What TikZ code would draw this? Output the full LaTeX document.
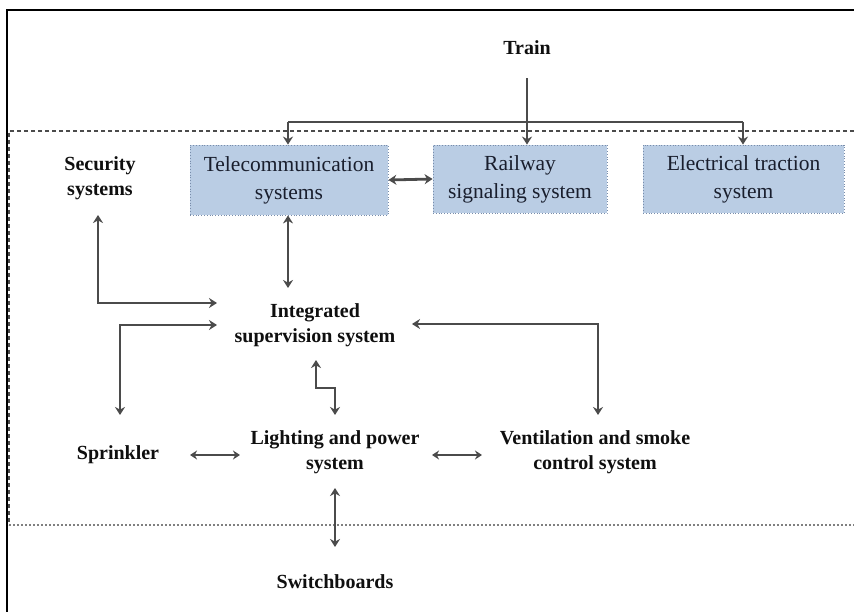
\documentclass[tikz,border=0pt]{standalone}
\usepackage{fontspec}
\setmainfont{Liberation Serif}
\usetikzlibrary{arrows.meta,calc}
\definecolor{arrgray}{RGB}{75,75,75}
\definecolor{boxblue}{RGB}{186,205,228}
\definecolor{boxedge}{RGB}{120,140,170}
\definecolor{boxtext}{RGB}{25,30,45}
\definecolor{lblblack}{RGB}{15,15,15}
\begin{document}
\begin{tikzpicture}[x=1pt,y=-1pt,
  ln/.style={draw=arrgray, line width=2.8pt},
  arr/.style={ln, -{Stealth[length=8pt,width=10pt]}},
  darr/.style={ln, {Stealth[length=8pt,width=10pt]}-{Stealth[length=8pt,width=10pt]}},
  tarr/.style={draw=arrgray, line width=2.2pt, {Stealth[length=7pt,width=9pt]}-{Stealth[length=7pt,width=9pt]}},
  sysbox/.style={draw=boxedge, dotted, line width=0.8pt, fill=boxblue, align=center, inner sep=0pt,
     text=boxtext, font=\fontsize{21.5}{28}\selectfont},
  lbl/.style={align=center, inner sep=0pt, text=lblblack, font=\bfseries\fontsize{20}{25}\selectfont}
]
\useasboundingbox (0,0) rectangle (854,612);
\fill[white] (0,0) rectangle (854,612);
% outer frame
\draw[black, line width=2pt] (7,612) -- (7,10) -- (854,10);
% dashed boundary
\draw[arrgray, line width=1.5pt, dash pattern=on 4pt off 3pt] (854,131) -- (9,131) -- (9,525);
\draw[gray, line width=1.5pt, dash pattern=on 2pt off 2pt] (9,525) -- (854,525);

% nodes
\node[lbl] (train) at (527,48) {Train};
\node[sysbox, minimum width=198pt, minimum height=70pt] (tel) at (289,180) {Telecommunication\\systems};
\node[sysbox, minimum width=174pt, minimum height=68pt] (rail) at (520,179) {Railway\\signaling system};
\node[sysbox, minimum width=201pt, minimum height=68pt] (elec) at (743.5,179) {Electrical traction\\system};
\node[lbl] (sec) at (100,178) {Security\\systems};
\node[lbl] (iss) at (315,325) {Integrated\\supervision system};
\node[lbl] (spr) at (118,455) {Sprinkler};
\node[lbl] (lgt) at (335,452) {Lighting and power\\system};
\node[lbl] (ven) at (595,452) {Ventilation and smoke\\control system};
\node[lbl] (swb) at (335,582) {Switchboards};

% coordinates
\coordinate (tj) at (527,122);
\coordinate (tl) at (288,122);
\coordinate (tr) at (743,122);
\coordinate (s1) at (98,215);
\coordinate (s2) at (217,303);
\coordinate (p1) at (217,325);
\coordinate (p2) at (120,415);
\coordinate (v1) at (412,324);
\coordinate (v2) at (598,415);
\coordinate (z1) at (316,360);
\coordinate (z2) at (335,415);
\coordinate (b1) at (190,455);
\coordinate (b2) at (240,455);
\coordinate (c1) at (432,455);
\coordinate (c2) at (482,455);
\coordinate (w1) at (335,488);
\coordinate (w2) at (335,547);

% train distribution
\draw[arr] ([yshift=-23pt]train.south -| tj) -- (rail.north -| tj);
\draw[ln] (tl) -- (tr);
\draw[arr] (tl) -- (tel.north -| tl);
\draw[arr] (tr) -- (elec.north -| tr);
\draw[darr] (tel.east) -- (rail.west);

% to integrated supervision
\draw[darr] (tel.south -| tl) -- (288,288);
\draw[darr] (s1) |- (s2);
\draw[darr] (p1) -| (p2);
\draw[darr] (v1) -| (v2);
\draw[darr] (z1) -- (316,388) -- (335,388) -- (z2);

% bottom row
\draw[tarr] (b1) -- (b2);
\draw[tarr] (c1) -- (c2);
\draw[darr] (w1) -- (w2);
\end{tikzpicture}
\end{document}
